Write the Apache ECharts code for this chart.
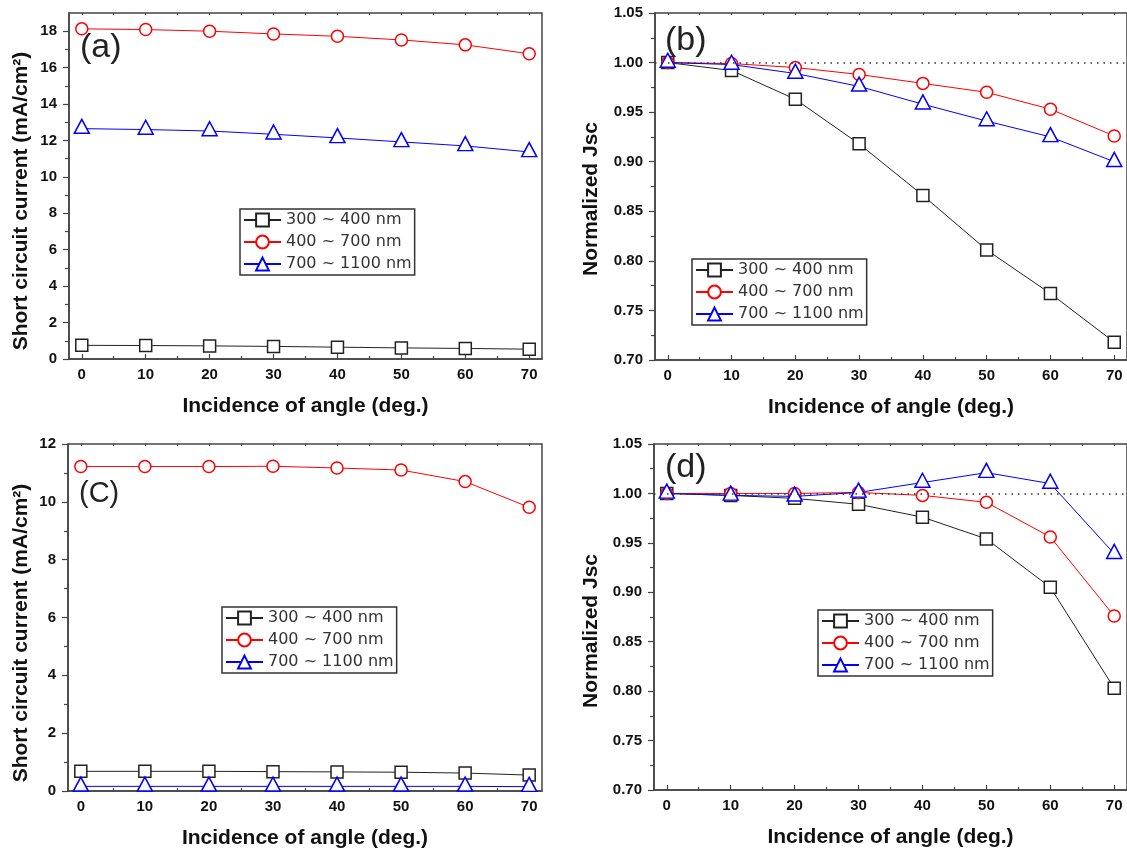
<!DOCTYPE html>
<html>
<head>
<meta charset="utf-8">
<script src="https://cdn.jsdelivr.net/npm/echarts@6/dist/echarts.min.js"></script>
<style>
  html, body { margin: 0; padding: 0; background: #fff; overflow: hidden; }
  #chart { width: 1127px; height: 850px; }
</style>
</head>
<body>
<div id="chart"></div>
<script>
// Incidence angles (deg.)
const angles = [0, 10, 20, 30, 40, 50, 60, 70];
const angleTicks = [0, 10, 20, 30, 40, 50, 60, 70];
const angleMinorTicks = [5, 15, 25, 35, 45, 55, 65];
const angleTopTicks = [0, 5, 10, 15, 20, 25, 30, 35, 40, 45, 50, 55, 60, 65, 70];

const bandNames = ['300 ~ 400 nm', '400 ~ 700 nm', '700 ~ 1100 nm'];

// (a) short circuit current, mA/cm2
const jscA_uv  = [0.75, 0.74, 0.72, 0.69, 0.65, 0.61, 0.58, 0.54];
const jscA_vis = [18.13, 18.09, 18.00, 17.85, 17.72, 17.52, 17.25, 16.76];
const jscA_nir = [12.65, 12.60, 12.52, 12.34, 12.14, 11.92, 11.70, 11.37];

// (b) normalized Jsc
const jscB_uv  = [1.000, 0.992, 0.963, 0.918, 0.866, 0.811, 0.767, 0.718];
const jscB_vis = [1.000, 0.999, 0.995, 0.988, 0.979, 0.970, 0.953, 0.926];
const jscB_nir = [1.000, 0.998, 0.989, 0.976, 0.958, 0.941, 0.925, 0.900];

// (c) short circuit current, mA/cm2
const jscC_uv  = [0.68, 0.68, 0.68, 0.67, 0.66, 0.65, 0.62, 0.55];
const jscC_vis = [11.22, 11.22, 11.22, 11.23, 11.17, 11.10, 10.70, 9.81];
const jscC_nir = [0.16, 0.16, 0.16, 0.16, 0.16, 0.16, 0.16, 0.15];

// (d) normalized Jsc
const jscD_uv  = [1.000, 0.998, 0.995, 0.989, 0.976, 0.954, 0.905, 0.803];
const jscD_vis = [1.000, 1.000, 1.000, 1.001, 0.998, 0.991, 0.956, 0.876];
const jscD_nir = [1.000, 0.998, 0.997, 1.001, 1.011, 1.021, 1.010, 0.939];

// y tick values
const currentTicksA = [0, 2, 4, 6, 8, 10, 12, 14, 16, 18];
const currentMinorA = [1, 3, 5, 7, 9, 11, 13, 15, 17];
const currentTicksC = [0, 2, 4, 6, 8, 10, 12];
const currentMinorC = [1, 3, 5, 7, 9, 11];
const normTicks = [0.70, 0.75, 0.80, 0.85, 0.90, 0.95, 1.00, 1.05];
const normMinor = [0.725, 0.775, 0.825, 0.875, 0.925, 0.975, 1.025];
const refLevel = 1.0;

const panelLetters = ['(a)', '(b)', '(C)', '(d)'];
const xTitle = 'Incidence of angle (deg.)';
const yTitleCurrent = 'Short circuit current (mA/cm²)';
const yTitleNorm = 'Normalized Jsc';

const AXIS_COLOR = '#444';
const LABEL_FONT = 'Liberation Sans';

const panels = [
  { grid: { left: 69, top: 13, width: 473, height: 346 }, yRange: [0, 19],
    ticks: currentTicksA, minor: currentMinorA, fmt: v => String(v),
    data: [jscA_uv, jscA_vis, jscA_nir], ref: false,
    legendPos: [240, 209], letterPos: [80, 47.5, 34],
    yTitle: yTitleCurrent, yTitlePos: [21, 201] },
  { grid: { left: 655, top: 13, width: 472, height: 347 }, yRange: [0.70, 1.05],
    ticks: normTicks, minor: normMinor, fmt: v => v.toFixed(2),
    data: [jscB_uv, jscB_vis, jscB_nir], ref: true,
    legendPos: [692, 259], letterPos: [665, 41, 34],
    yTitle: yTitleNorm, yTitlePos: [591, 199] },
  { grid: { left: 68, top: 444, width: 474, height: 347 }, yRange: [0, 12],
    ticks: currentTicksC, minor: currentMinorC, fmt: v => String(v),
    data: [jscC_uv, jscC_vis, jscC_nir], ref: false,
    legendPos: [222, 607], letterPos: [79, 494, 29],
    yTitle: yTitleCurrent, yTitlePos: [21, 633] },
  { grid: { left: 654, top: 444, width: 473, height: 346 }, yRange: [0.70, 1.05],
    ticks: normTicks, minor: normMinor, fmt: v => v.toFixed(2),
    data: [jscD_uv, jscD_vis, jscD_nir], ref: true,
    legendPos: [818, 610], letterPos: [665, 468, 34],
    yTitle: yTitleNorm, yTitlePos: [591, 631] }
];

const seriesStyles = [
  { color: '#222222', symbol: 'rect', symbolSize: 12, symbolOffset: [0, 0] },
  { color: '#ff0000', symbol: 'circle', symbolSize: 12, symbolOffset: [0, 0] },
  { color: '#0000ff', symbol: 'triangle', symbolSize: [15, 14], symbolOffset: [0, -2.3] }
];

const grids = [], xAxes = [], yAxes = [], series = [], legends = [], graphics = [];

panels.forEach((p, i) => {
  grids.push(Object.assign({ show: true, borderColor: AXIS_COLOR, borderWidth: 1.5, backgroundColor: 'transparent' }, p.grid));

  // bottom axis with labels and major ticks
  xAxes.push({
    type: 'value', gridIndex: i, position: 'bottom', min: -2, max: 72,
    axisLine: { show: true, onZero: false, lineStyle: { color: AXIS_COLOR, width: 1.5 } },
    axisTick: { show: true, inside: true, length: 5, customValues: angleTicks, lineStyle: { color: AXIS_COLOR, width: 1.2 } },
    axisLabel: { show: true, customValues: angleTicks, margin: 8, color: '#111', fontSize: 15, fontWeight: 'bold', fontFamily: LABEL_FONT },
    splitLine: { show: false },
    name: xTitle, nameLocation: 'middle', nameGap: 37,
    nameTextStyle: { fontSize: 21, fontWeight: 'bold', color: '#111', fontFamily: LABEL_FONT }
  });
  // bottom axis minor ticks
  xAxes.push({
    type: 'value', gridIndex: i, position: 'bottom', min: -2, max: 72,
    axisLine: { show: false, onZero: false },
    axisTick: { show: true, inside: true, length: 3, customValues: angleMinorTicks, lineStyle: { color: AXIS_COLOR, width: 1.2 } },
    axisLabel: { show: false }, splitLine: { show: false }
  });
  // top axis small ticks
  xAxes.push({
    type: 'value', gridIndex: i, position: 'top', min: -2, max: 72,
    axisLine: { show: false, onZero: false },
    axisTick: { show: true, inside: true, length: 2, customValues: angleTopTicks, lineStyle: { color: AXIS_COLOR, width: 1.2 } },
    axisLabel: { show: false }, splitLine: { show: false }
  });

  yAxes.push({
    type: 'value', gridIndex: i, position: 'left', min: p.yRange[0], max: p.yRange[1],
    axisLine: { show: true, onZero: false, lineStyle: { color: AXIS_COLOR, width: 1.5 } },
    axisTick: { show: true, inside: false, length: 6, customValues: p.ticks, lineStyle: { color: AXIS_COLOR, width: 1.2 } },
    axisLabel: { show: true, customValues: p.ticks, formatter: p.fmt, margin: 12, color: '#111', fontSize: 15, fontWeight: 'bold', fontFamily: LABEL_FONT },
    splitLine: { show: false }
  });
  yAxes.push({
    type: 'value', gridIndex: i, position: 'left', min: p.yRange[0], max: p.yRange[1],
    axisLine: { show: false, onZero: false },
    axisTick: { show: true, inside: false, length: 4, customValues: p.minor, lineStyle: { color: AXIS_COLOR, width: 1.2 } },
    axisLabel: { show: false }, splitLine: { show: false }
  });

  p.data.forEach((vals, k) => {
    const st = seriesStyles[k];
    const s = {
      type: 'line', name: bandNames[k],
      xAxisIndex: 3 * i, yAxisIndex: 2 * i,
      data: angles.map((a, j) => [a, vals[j]]),
      symbol: st.symbol, symbolSize: st.symbolSize, symbolOffset: st.symbolOffset,
      showAllSymbol: true,
      lineStyle: { color: st.color, width: 1 },
      itemStyle: { color: '#fff', borderColor: st.color, borderWidth: 1.5 },
      emphasis: { disabled: true },
      animation: false
    };
    if (p.ref && k === 0) {
      s.markLine = {
        silent: true, symbol: ['none', 'none'], label: { show: false },
        lineStyle: { color: '#333', width: 1.5, type: [1.5, 5] },
        data: [{ yAxis: refLevel }]
      };
    }
    series.push(s);
  });

  legends.push({
    orient: 'vertical', left: p.legendPos[0], top: p.legendPos[1],
    data: bandNames, selectedMode: false,
    itemWidth: 37, itemHeight: 16, itemGap: 6,
    padding: [3, 3, 3, 3],
    borderColor: '#333', borderWidth: 1.5, backgroundColor: '#fff',
    textStyle: { fontFamily: 'DejaVu Sans', fontSize: 16, lineHeight: 16, color: '#333' }
  });

  graphics.push({
    type: 'text', x: p.letterPos[0], y: p.letterPos[1], z: 10,
    style: { text: panelLetters[i], font: p.letterPos[2] + 'px "Liberation Sans"', fill: '#222', align: 'left', verticalAlign: 'middle' }
  });
  graphics.push({
    type: 'text', x: p.yTitlePos[0], y: p.yTitlePos[1], rotation: Math.PI / 2, z: 10,
    style: { text: p.yTitle, font: 'bold 21px "Liberation Sans"', fill: '#111', align: 'center', verticalAlign: 'middle' }
  });
});

const chart = echarts.init(document.getElementById('chart'), null, { renderer: 'canvas' });
chart.setOption({
  backgroundColor: '#fff',
  animation: false,
  grid: grids,
  xAxis: xAxes,
  yAxis: yAxes,
  legend: legends,
  series: series,
  graphic: graphics
});
</script>
</body>
</html>
